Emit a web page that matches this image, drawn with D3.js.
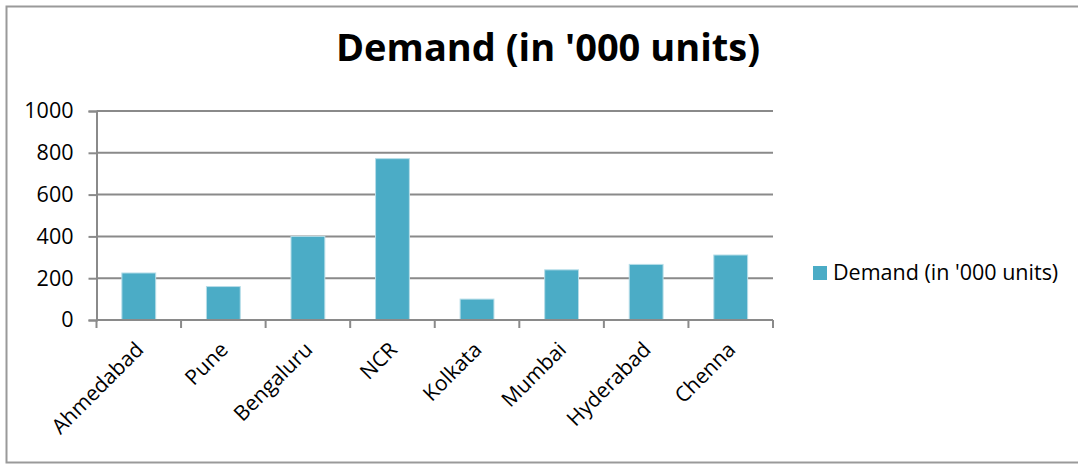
<!DOCTYPE html>
<html>
<head>
<meta charset="utf-8">
<script src="https://cdn.jsdelivr.net/npm/d3@7"></script>
<style>
  body { margin: 0; background: #fff; }
  text { font-family: "Open Sans", Lato, sans-serif; fill: #000; }
</style>
</head>
<body>
<div id="chart"></div>
<script>
// data
const cities = ['Ahmedabad', 'Pune', 'Bengaluru', 'NCR', 'Kolkata', 'Mumbai', 'Hyderabad', 'Chenna']
const demand = [225, 160, 400, 772, 100, 240, 266, 311]
const yTicks = [0, 200, 400, 600, 800, 1000]
const seriesName = "Demand (in '000 units)"

let width = 1078
let height = 464

let svg = d3.select('#chart')
  .append('svg')
  .attr('width', width)
  .attr('height', height)

// chart border
svg.append('rect')
  .attr('x', 6.5)
  .attr('y', 6.5)
  .attr('width', 1090)
  .attr('height', 456)
  .attr('fill', 'none')
  .attr('stroke', '#9a9a9a')
  .attr('stroke-width', 2)

let plot = { left: 96.5, right: 773, top: 111, bottom: 320 }

let x = d3.scaleBand()
  .domain(cities)
  .range([plot.left, plot.right])
  .paddingInner(0.6)
  .paddingOuter(0.3)

let y = d3.scaleLinear()
  .domain([0, 1000])
  .range([plot.bottom, plot.top])

// y axis
let yAxis = svg.append('g')
  .attr('transform', `translate(${plot.left},0)`)
  .call(d3.axisLeft(y).tickValues(yTicks).tickFormat(d3.format('d')).tickSize(8).tickPadding(15))
yAxis.select('.domain').attr('stroke', '#8a8a8a').attr('stroke-width', 2)
yAxis.selectAll('.tick line').attr('stroke', '#8a8a8a').attr('stroke-width', 2)
yAxis.selectAll('.tick text').style('font-size', '21.5px')

// gridlines
svg.append('g')
  .selectAll('line')
  .data(yTicks.filter(d => d > 0))
  .enter()
  .append('line')
  .attr('x1', plot.left)
  .attr('x2', plot.right)
  .attr('y1', d => y(d))
  .attr('y2', d => y(d))
  .attr('stroke', '#8a8a8a')
  .attr('stroke-width', 2)

// bars
svg.append('g')
  .selectAll('rect')
  .data(demand)
  .enter()
  .append('rect')
  .attr('x', (d, i) => x(cities[i]))
  .attr('y', d => y(d))
  .attr('width', x.bandwidth())
  .attr('height', d => y(0) - y(d))
  .attr('fill', '#4bacc6')
  .attr('stroke', '#b6dde8')
  .attr('stroke-width', 1)

// x axis with boundary ticks
let step = (plot.right - plot.left) / cities.length
let xAxis = svg.append('g')
xAxis.append('line')
  .attr('x1', plot.left)
  .attr('x2', plot.right)
  .attr('y1', plot.bottom)
  .attr('y2', plot.bottom)
  .attr('stroke', '#8a8a8a')
  .attr('stroke-width', 2)
xAxis.selectAll('.xtick')
  .data(d3.range(cities.length + 1))
  .enter()
  .append('line')
  .attr('class', 'xtick')
  .attr('x1', i => plot.left + i * step)
  .attr('x2', i => plot.left + i * step)
  .attr('y1', plot.bottom)
  .attr('y2', plot.bottom + 8)
  .attr('stroke', '#8a8a8a')
  .attr('stroke-width', 2)

xAxis.selectAll('.xlabel')
  .data(cities)
  .enter()
  .append('text')
  .attr('class', 'xlabel')
  .attr('text-anchor', 'end')
  .attr('transform', d => `translate(${x(d) + x.bandwidth() / 2 + 6},${plot.bottom + 31}) rotate(-45)`)
  .style('font-size', '21px')
  .text(d => d)

// title
svg.append('text')
  .attr('x', 548)
  .attr('y', 61)
  .attr('text-anchor', 'middle')
  .style('font-size', '38px')
  .style('font-weight', 'bold')
  .text(seriesName)

// legend
svg.append('rect')
  .attr('x', 813)
  .attr('y', 266)
  .attr('width', 14)
  .attr('height', 14)
  .attr('fill', '#4bacc6')
svg.append('text')
  .attr('x', 833)
  .attr('y', 280)
  .style('font-size', '21.5px')
  .text(seriesName)
</script>
</body>
</html>
